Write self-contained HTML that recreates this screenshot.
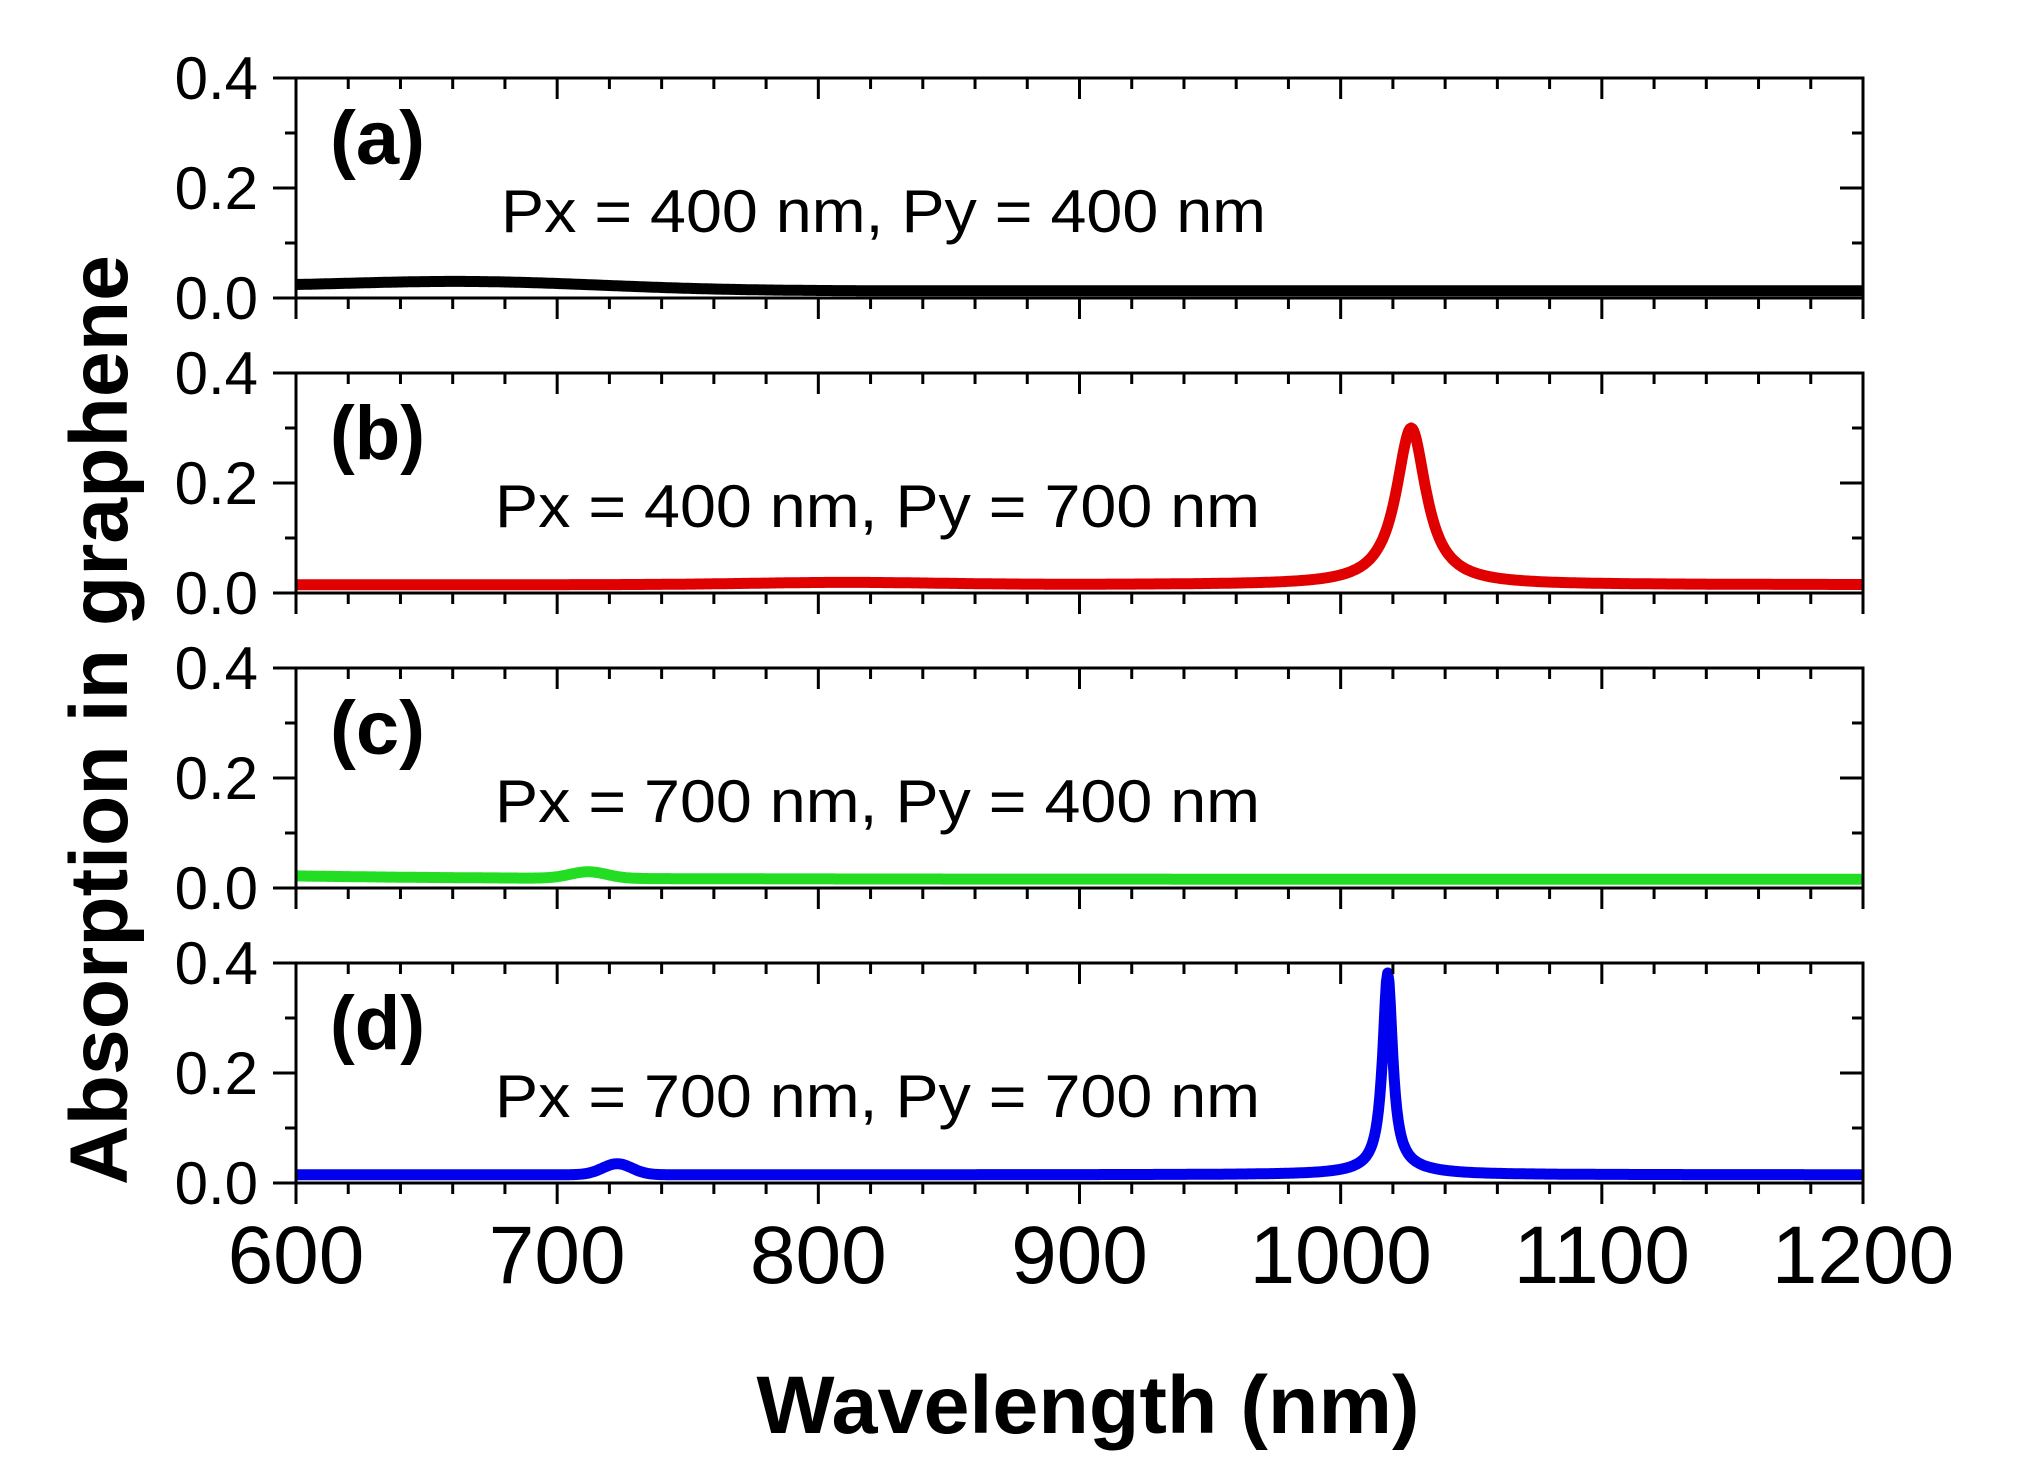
<!DOCTYPE html>
<html><head><meta charset="utf-8"><style>
html,body{margin:0;padding:0;background:#fff;}
svg{display:block;}
text{font-family:"Liberation Sans",Arial,sans-serif;fill:#000;}
</style></head><body>
<svg id="s" width="2032" height="1469" viewBox="0 0 2032 1469" xmlns="http://www.w3.org/2000/svg">
<rect width="2032" height="1469" fill="#fff"/>
<g id="g"></g>
<text x="1088" y="1433" font-size="82" font-weight="bold" text-anchor="middle" textLength="663" lengthAdjust="spacingAndGlyphs">Wavelength (nm)</text>
<text transform="translate(127,720) rotate(-90)" font-size="82" font-weight="bold" text-anchor="middle" textLength="930" lengthAdjust="spacingAndGlyphs">Absorption in graphene</text>
</svg>
<script>
var L=296,R=1863,tops=[78,373,668,963],H=220;
var g=document.getElementById('g'),h='';
function X(w){return L+(w-600)*(R-L)/600;}
var labs=['(a)','(b)','(c)','(d)'];
var ann=['Px = 400 nm, Py = 400 nm','Px = 400 nm, Py = 700 nm','Px = 700 nm, Py = 400 nm','Px = 700 nm, Py = 700 nm'];
var cols=['#000','#e00000','#22dd22','#0000ee'];
function f(i,x){
 if(i==0) return 0.013+0.016*Math.exp(-Math.pow((x-665)/75,2))+0.004*Math.exp(-(x-600)/50);
 if(i==1) return 0.015+0.004*Math.exp(-Math.pow((x-810)/50,2))+0.285/(1+Math.pow((x-1027)/7,2));
 if(i==2) return 0.016+0.006*Math.exp(-(x-600)/80)+0.012*Math.exp(-Math.pow((x-712)/10,2));
 return 0.015+0.02*Math.exp(-Math.pow((x-723)/8,2))+0.355/(1+Math.pow((x-1018)/2.3,2))+0.012/(1+Math.pow((x-1020)/15,2));
}
for(var i=0;i<4;i++){
 var t=tops[i],b=t+H;
 function Y(v){return b-v*H/0.4;}
 var d='';
 for(var x=600;x<=1200;x+=0.5){d+=(x==600?'M':'L')+X(x).toFixed(1)+','+Y(f(i,x)).toFixed(1);}
 h+='<path d="'+d+'" fill="none" stroke="'+cols[i]+'" stroke-width="11" stroke-linejoin="round"/>';
 h+='<rect x="'+L+'" y="'+t+'" width="'+(R-L)+'" height="'+H+'" fill="none" stroke="#000" stroke-width="3"/>';
 for(var w=600;w<=1200;w+=20){
  var xx=X(w),maj=(w%100==0),len=maj?21:11;
  h+='<line x1="'+xx+'" y1="'+b+'" x2="'+xx+'" y2="'+(b+len)+'" stroke="#000" stroke-width="3"/>';
  h+='<line x1="'+xx+'" y1="'+t+'" x2="'+xx+'" y2="'+(t+len)+'" stroke="#000" stroke-width="3"/>';
 }
 for(var k=0;k<=4;k++){
  var yy=Y(k*0.1),maj=(k%2==0),len=maj?23:11;
  h+='<line x1="'+(L-len)+'" y1="'+yy+'" x2="'+L+'" y2="'+yy+'" stroke="#000" stroke-width="3"/>';
  h+='<line x1="'+R+'" y1="'+yy+'" x2="'+(R-len)+'" y2="'+yy+'" stroke="#000" stroke-width="3"/>';
  if(maj) h+='<text x="258" y="'+(yy+21)+'" font-size="60" text-anchor="end">'+(k*0.1).toFixed(1)+'</text>';
 }
 h+='<text x="330" y="'+(t+86)+'" font-size="76" font-weight="bold" textLength="95" lengthAdjust="spacingAndGlyphs">'+labs[i]+'</text>';
 h+='<text x="'+(i==0?501:495)+'" y="'+(t+154)+'" font-size="60" textLength="765" lengthAdjust="spacingAndGlyphs">'+ann[i]+'</text>';
}
for(var w=600;w<=1200;w+=100){
 h+='<text x="'+X(w)+'" y="1283" font-size="82" text-anchor="middle">'+w+'</text>';
}
g.innerHTML=h;
</script>
</body></html>
